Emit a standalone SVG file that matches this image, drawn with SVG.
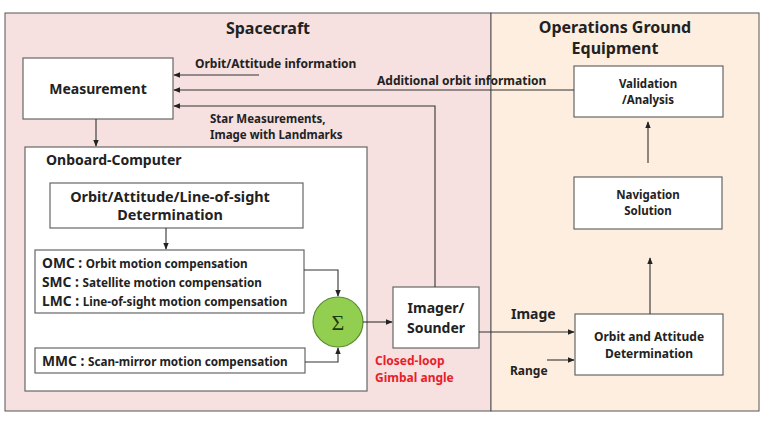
<svg xmlns="http://www.w3.org/2000/svg" width="771" height="422" viewBox="0 0 771 422">
<style>
text{font-family:"Noto Sans","Open Sans","Liberation Sans",sans-serif;font-weight:bold;fill:#222}
.box{fill:#fff;stroke:#666;stroke-width:1.2}
.ln{fill:none;stroke:#333;stroke-width:1.1}
.t14{font-size:14px}
.t15{font-size:13.8px}
.t12{font-size:12px}
.t115{font-size:11.5px}
.t11{font-size:11.7px}
.t16{font-size:16px}
.red{fill:#e8202a}
</style>
<defs>
<marker id="ah" viewBox="0 0 10 10" refX="9" refY="5" markerWidth="7" markerHeight="7" markerUnits="userSpaceOnUse" orient="auto">
<path d="M0,1 L10,5 L0,9 z" fill="#222"/>
</marker>
</defs>
<rect width="771" height="422" fill="#fff"/>
<g id="spacecraft">
<rect x="5" y="13" width="486" height="398" fill="#f6e0e0" stroke="#555" stroke-width="1"/>
<text x="268" y="34" text-anchor="middle" class="t16">Spacecraft</text>
</g>
<g id="ground">
<rect x="491" y="13" width="268" height="398" fill="#fdeee0" stroke="#555" stroke-width="1"/>
<text x="615" y="33" text-anchor="middle" class="t16">Operations Ground</text>
<text x="615" y="54" text-anchor="middle" class="t16">Equipment</text>
</g>
<g id="measurement">
<rect class="box" x="23" y="58" width="150" height="61"/>
<text x="98" y="94" text-anchor="middle" class="t14">Measurement</text>
</g>
<g id="onboard">
<rect class="box" x="25" y="147" width="342" height="244"/>
<text x="46" y="165" class="t14">Onboard-Computer</text>
</g>
<g id="oald">
<rect class="box" x="50" y="183" width="253" height="45"/>
<text x="170" y="202" text-anchor="middle" style="font-size:14.4px">Orbit/Attitude/Line-of-sight</text>
<text x="170" y="220" text-anchor="middle" style="font-size:14.4px">Determination</text>
</g>
<g id="comp">
<rect class="box" x="35" y="250" width="269" height="63"/>
<text x="42" y="268"><tspan class="t15">OMC : </tspan><tspan class="t11">Orbit motion compensation</tspan></text>
<text x="42" y="287"><tspan class="t15">SMC : </tspan><tspan class="t11">Satellite motion compensation</tspan></text>
<text x="42" y="306"><tspan class="t15">LMC : </tspan><tspan class="t11">Line-of-sight motion compensation</tspan></text>
</g>
<g id="mmc">
<rect class="box" x="35" y="348" width="270" height="25"/>
<text x="42" y="366"><tspan class="t15">MMC : </tspan><tspan class="t11">Scan-mirror motion compensation</tspan></text>
</g>
<g id="sigma">
<ellipse cx="338" cy="322" rx="25" ry="25" fill="#92cf50" stroke="#5a8a30" stroke-width="1.2"/>
<text x="338" y="330" text-anchor="middle" style="font-family:'Liberation Serif',serif;font-weight:normal;font-size:22px;fill:#1e3a10">Σ</text>
</g>
<g id="imager">
<rect class="box" x="393" y="287" width="86" height="61"/>
<text x="436" y="313" text-anchor="middle" class="t14">Imager/</text>
<text x="436" y="333" text-anchor="middle" class="t14">Sounder</text>
</g>
<g id="validation">
<rect class="box" x="574" y="66" width="149" height="51"/>
<text x="648" y="88" text-anchor="middle" class="t115">Validation</text>
<text x="648" y="104" text-anchor="middle" class="t115">/Analysis</text>
</g>
<g id="navigation">
<rect class="box" x="574" y="177" width="148" height="52"/>
<text x="648" y="199" text-anchor="middle" class="t115">Navigation</text>
<text x="648" y="215" text-anchor="middle" class="t115">Solution</text>
</g>
<g id="oad">
<rect class="box" x="575" y="314" width="148" height="61"/>
<text x="649" y="341" text-anchor="middle" class="t12">Orbit and Attitude</text>
<text x="649" y="358" text-anchor="middle" class="t12">Determination</text>
</g>
<g id="connectors">
<path class="ln" d="M259,75 H174" marker-end="url(#ah)"/>
<path class="ln" d="M574,90 H174" marker-end="url(#ah)"/>
<path class="ln" d="M435,287 V106 H174" marker-end="url(#ah)"/>
<path class="ln" d="M96,119 V146" marker-end="url(#ah)"/>
<path class="ln" d="M166,228 V249" marker-end="url(#ah)"/>
<path class="ln" d="M304,270 H338 V296" marker-end="url(#ah)"/>
<path class="ln" d="M305,362 H338 V348" marker-end="url(#ah)"/>
<path class="ln" d="M363,322 H392" marker-end="url(#ah)"/>
<path class="ln" d="M479,332 H574" marker-end="url(#ah)"/>
<path class="ln" d="M547,360 H574" marker-end="url(#ah)"/>
<path class="ln" d="M650,314 V258" marker-end="url(#ah)"/>
<path class="ln" d="M648,163 V122" marker-end="url(#ah)"/>
</g>
<g id="labels">
<text x="195" y="68" class="t12">Orbit/Attitude information</text>
<text x="377" y="85" class="t12">Additional orbit information</text>
<text x="210" y="123" class="t115">Star Measurements,</text>
<text x="210" y="139" class="t115">Image with Landmarks</text>
<text x="375" y="365" class="t12 red">Closed-loop</text>
<text x="375" y="382" class="t12 red">Gimbal angle</text>
<text x="511" y="319" class="t14">Image</text>
<text x="510" y="375" class="t12">Range</text>
</g>
</svg>
